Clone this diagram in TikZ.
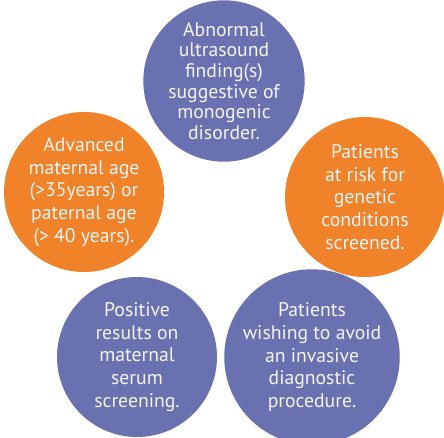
\documentclass[tikz,border=0pt]{standalone}
\usepackage{fontspec}
\setmainfont{PT Sans}
\definecolor{cpurple}{HTML}{6A71B0}
\definecolor{corange}{HTML}{F0822A}
\definecolor{ctext}{HTML}{F4F4F4}
\begin{document}
\begin{tikzpicture}[x=1pt,y=-1pt,
  bubble/.style={circle,minimum size=160pt,inner sep=0pt,align=center,text=ctext,
    font=\fontsize{19.7}{22.6}\selectfont},
  purplebubble/.style={bubble,fill=cpurple},
  orangebubble/.style={bubble,fill=corange}]
\useasboundingbox (0,0) rectangle (444,437);
\node[purplebubble,font=\fontsize{19.7}{20.6}\selectfont] (top) at (224,81)
  {Abnormal\\ultrasound\\finding(s)\\suggestive of\\monogenic\\disorder.};
\node[orangebubble] (left) at (84,192)
  {Advanced\\maternal age\\(>35years) or\\paternal age\\(> 40 years).};
\node[orangebubble] (right) at (365,197)
  {Patients\\at risk for\\genetic\\conditions\\screened.};
\node[purplebubble] (bl) at (137,357)
  {Positive\\results on\\maternal\\serum\\screening.};
\node[purplebubble] (br) at (312,357)
  {Patients\\wishing to avoid\\an invasive\\diagnostic\\procedure.};
\end{tikzpicture}
\end{document}
